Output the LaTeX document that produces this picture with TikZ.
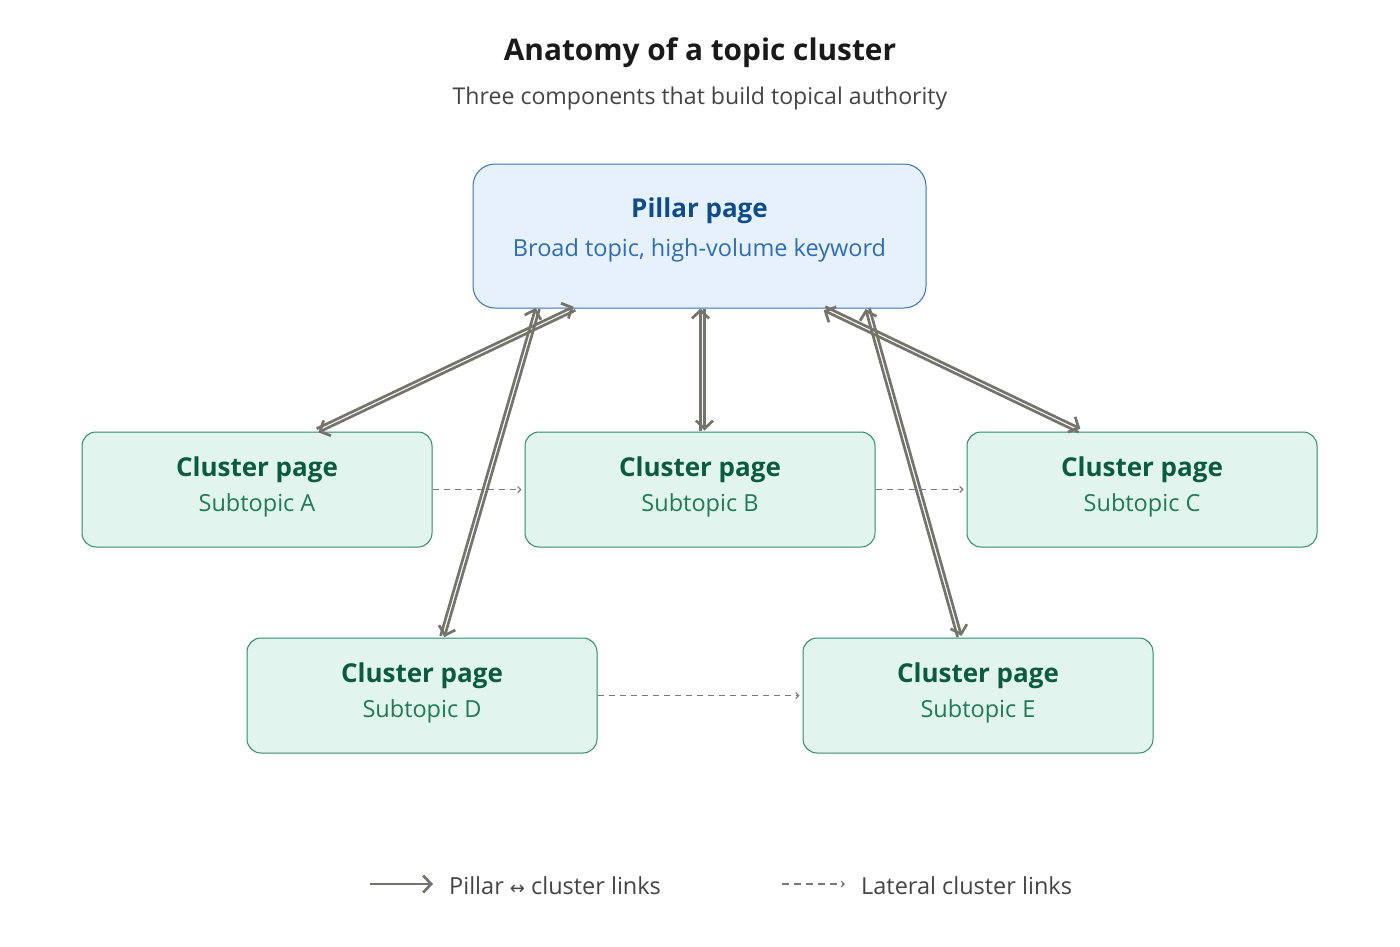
\documentclass[tikz,border=0pt]{standalone}
\usepackage{fontspec}
\setmainfont{Open Sans}
\newfontfamily\symfont{DejaVu Sans}
\usetikzlibrary{arrows.meta,calc}
\definecolor{pfill}{HTML}{E7F1FB}
\definecolor{pdraw}{HTML}{3A73B5}
\definecolor{ptext}{HTML}{0F4C8A}
\definecolor{psub}{HTML}{2F6DB0}
\definecolor{cfill}{HTML}{E1F4EE}
\definecolor{cdraw}{HTML}{2F8A67}
\definecolor{ctext}{HTML}{0B5B40}
\definecolor{csub}{HTML}{1F7A56}
\definecolor{linkc}{HTML}{74746C}
\definecolor{latc}{HTML}{7A7A7A}
\definecolor{titlec}{HTML}{1A1A1A}
\definecolor{subc}{HTML}{444444}
\tikzset{
  pillarbox/.style={draw=pdraw, fill=pfill, line width=1pt, rounded corners=22pt, minimum width=453pt, minimum height=144pt, inner sep=0pt},
  clusterbox/.style={draw=cdraw, fill=cfill, line width=1pt, rounded corners=14pt, minimum width=350pt, minimum height=115pt, inner sep=0pt},
  ptitle/.style={text=ptext, font=\fontsize{26}{30}\selectfont\bfseries, inner sep=0pt},
  psubt/.style={text=psub, font=\fontsize{23.5}{27}\selectfont, inner sep=0pt},
  ctitle/.style={text=ctext, font=\fontsize{26}{30}\selectfont\bfseries, inner sep=0pt},
  csubt/.style={text=csub, font=\fontsize{23.5}{27}\selectfont, inner sep=0pt},
  link/.style={draw=linkc, line width=2.7pt, -{Straight Barb[length=8pt,width=17pt]}},
  lateral/.style={draw=latc, line width=1.1pt, dash pattern=on 6pt off 5pt, -{Straight Barb[length=3pt,width=6pt]}},
  legtext/.style={text=subc, font=\fontsize{23.5}{27}\selectfont, inner sep=0pt, anchor=west},
}
\newcommand\pclink[2]{%
  \draw[link] ($(#1)!2pt!90:(#2)$) -- ($(#2)!2pt!-90:(#1)$);
  \draw[link] ($(#2)!2pt!90:(#1)$) -- ($(#1)!2pt!-90:(#2)$);
}
\begin{document}
\begin{tikzpicture}[x=1pt,y=-1pt]
\useasboundingbox (0,0) rectangle (1400,946);
\fill[white] (0,0) rectangle (1400,946);

% titles
\node[text=titlec, font=\fontsize{29.8}{34}\selectfont\bfseries, inner sep=0pt] (title) at (700,53) {Anatomy of a topic cluster};
\node[text=subc, font=\fontsize{23.1}{27}\selectfont, inner sep=0pt] (subtitle) at (700,98) {Three components that build topical authority};

% pillar
\node[pillarbox] (P) at (699.5,236) {};
\node[ptitle] (Pt) at ([yshift=25pt]P.center) {Pillar page};
\node[psubt] (Ps) at ([yshift=-14pt]P.center) {Broad topic, high-volume keyword};

% clusters
\node[clusterbox] (A) at (257,489.5) {};
\node[clusterbox] (B) at (700,489.5) {};
\node[clusterbox] (C) at (1142,489.5) {};
\node[clusterbox] (D) at (422,695.5) {};
\node[clusterbox] (E) at (978,695.5) {};
\foreach \n/\s in {A/A,B/B,C/C,D/D,E/E}{
  \node[ctitle] (\n t) at ([yshift=19.5pt]\n.center) {Cluster page};
  \node[csubt] (\n s) at ([yshift=-15.5pt]\n.center) {Subtopic \s};
}

% link end points
\coordinate (pA) at ([xshift=102pt]P.south west);
\coordinate (pD) at ([xshift=65pt]P.south west);
\coordinate (pB) at ([xshift=230pt]P.south west);
\coordinate (pC) at ([xshift=352pt]P.south west);
\coordinate (pE) at ([xshift=395pt]P.south west);
\coordinate (cA) at ([xshift=236pt,yshift=1pt]A.north west);
\coordinate (cB) at ([xshift=178pt,yshift=1pt]B.north west);
\coordinate (cC) at ([xshift=113pt,yshift=1pt]C.north west);
\coordinate (cD) at ([xshift=196pt,yshift=1pt]D.north west);
\coordinate (cE) at ([xshift=157pt,yshift=1pt]E.north west);

% lateral links
\draw[lateral] (A.east) -- ([xshift=-3pt]B.west);
\draw[lateral] (B.east) -- ([xshift=-3pt]C.west);
\draw[lateral] (D.east) -- ([xshift=-3pt]E.west);

% pillar-cluster links
\pclink{pA}{cA}
\pclink{pD}{cD}
\pclink{pB}{cB}
\pclink{pC}{cC}
\pclink{pE}{cE}

% legend
\coordinate (l1a) at (370,884);
\coordinate (l1b) at (433,884);
\draw[link] (l1a) -- (l1b);
\node[legtext] (l1t) at (449,886) {Pillar {\symfont\fontsize{18}{20}\selectfont ↔} cluster links};
\coordinate (l2a) at (782,884);
\coordinate (l2b) at (845,884);
\draw[lateral, dash pattern=on 7pt off 5pt] (l2a) -- (l2b);
\node[legtext] (l2t) at (861,886) {Lateral cluster links};
\end{tikzpicture}
\end{document}
